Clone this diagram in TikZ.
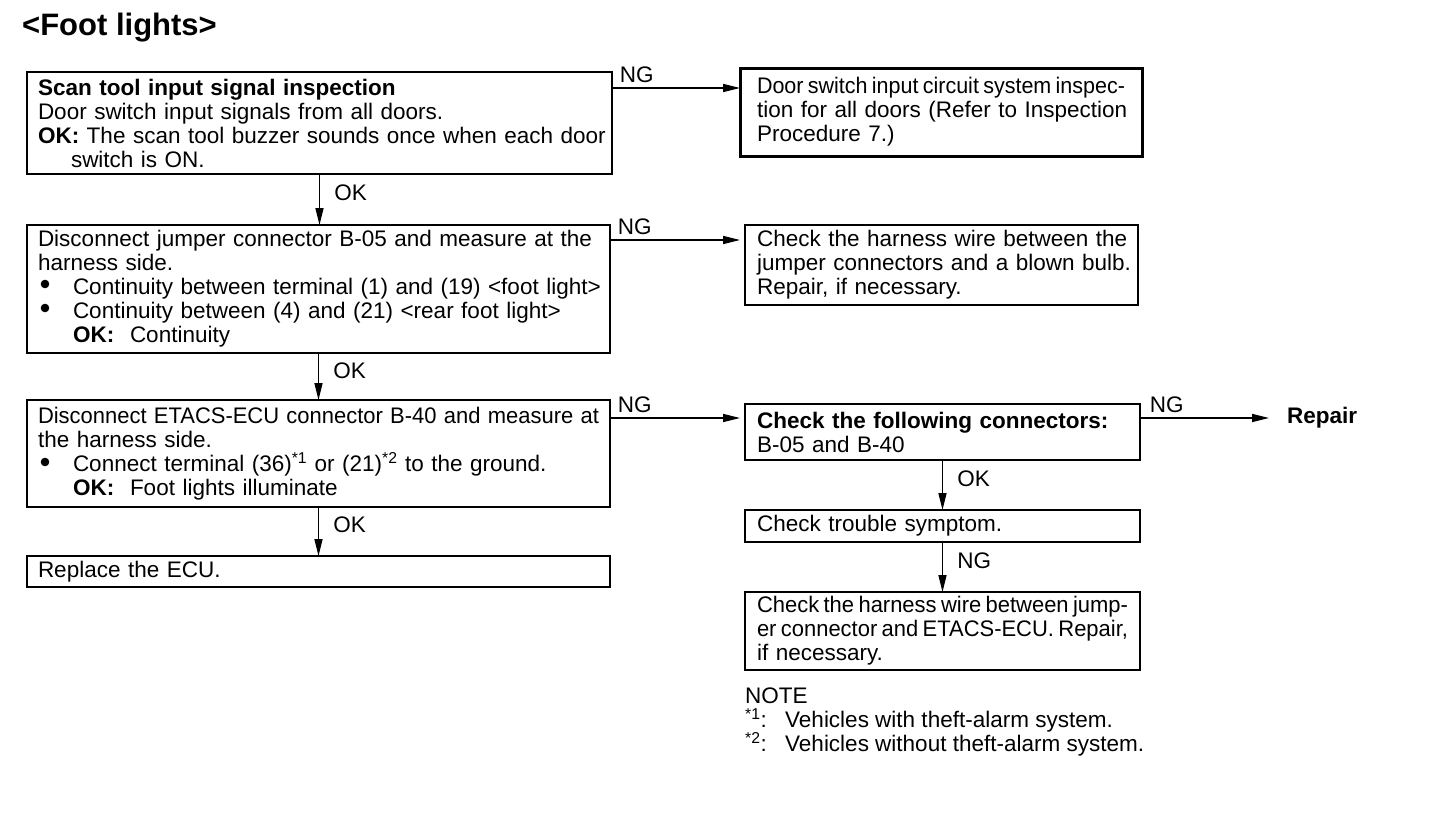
\documentclass[tikz,border=0pt]{standalone}
\usepackage{fontspec}
\setmainfont{Liberation Sans}
\usepackage{graphicx}
\usetikzlibrary{arrows.meta}
\newcommand\fsz{\fontsize{22.5}{24}\selectfont}
\newcommand\jl[1]{\makebox[\hsize][s]{#1}}
\newcommand\tl[1]{\resizebox{\hsize}{\height}{\spaceskip=4.5pt plus 1pt #1}}
\newcommand\fl[1]{\resizebox{\hsize}{\height}{#1}}
\newcommand\bul{\hspace*{35pt}}
\newcommand\okk{\makebox[57pt][l]{\textbf{OK:}}}
\tikzset{
  box/.style={draw, line width=1.6pt, rectangle, anchor=north west, outer sep=0pt,
    inner xsep=11pt, inner ysep=2pt, align=left, font=\fsz},
  arr/.style={line width=1.6pt, -{Triangle[length=17pt,width=8pt]}},
  lbl/.style={font=\fsz, inner sep=1pt},
  dot/.style={fill=black},
}
\begin{document}
\begin{tikzpicture}[x=1pt,y=-1pt]
\fill[white] (0,0) rectangle (1456,830);
\useasboundingbox (0,0) rectangle (1456,830);

\node[anchor=base west, inner sep=0, font=\fontsize{31}{33}\selectfont\bfseries] (title) at (22,35) {<Foot lights>};

\node[box, text width=563pt, minimum height=102pt] (b1) at (27,72) {%
\textbf{Scan tool input signal inspection}\\
Door switch input signals from all doors.\\
\jl{\textbf{OK:} The scan tool buzzer sounds once when each door}\\
\hspace*{33pt}switch is ON.};

\node[box, text width=561pt, minimum height=128pt] (b2) at (27,225) {%
\jl{Disconnect jumper connector B-05 and measure at the}\\
harness side.\\
\bul\makebox[\dimexpr\hsize-35pt\relax][s]{Continuity between terminal (1) and (19) <foot light>}\\
\bul Continuity between (4) and (21) <rear foot light>\\
\hspace*{35pt}\okk Continuity};

\node[box, text width=561pt, minimum height=107pt] (b3) at (27,400) {%
\fl{Disconnect ETACS-ECU connector B-40 and measure at}\\
the harness side.\\
\bul\makebox[\dimexpr\hsize-35pt\relax][s]{Connect terminal (36)\textsuperscript{*1} or (21)\textsuperscript{*2} to the ground.}\\
\hspace*{35pt}\okk Foot lights illuminate};

% bullets
\fill[dot] (45,284) circle (4.3pt);
\fill[dot] (45,308) circle (4.3pt);
\fill[dot] (45,462) circle (4.3pt);

\node[box, text width=561pt, minimum height=31pt] (b4) at (27,556) {Replace the ECU.};

\node[box, line width=3pt, inner xsep=17pt, text width=368pt, minimum height=88pt] (r1) at (740,68) {%
\tl{Door switch input circuit system inspec-}\\
\jl{tion for all doors (Refer to Inspection}\\
Procedure 7.)};

\node[box, inner xsep=12pt, text width=369pt, minimum height=80pt] (r2) at (745,225) {%
\jl{Check the harness wire between the}\\
\jl{jumper connectors and a blown bulb.}\\
Repair, if necessary.};

\node[box, inner xsep=12pt, text width=371pt, minimum height=56pt] (r3) at (745,404) {%
\textbf{Check the following connectors:}\\
B-05 and B-40};

\node[box, inner xsep=12pt, text width=371pt, minimum height=32pt] (r4) at (745,510) {Check trouble symptom.};

\node[box, inner xsep=12pt, text width=371pt, minimum height=78pt] (r5) at (745,592) {%
\tl{Check the harness wire between jump-}\\
\tl{er connector and ETACS-ECU. Repair,}\\
if necessary.};

\node[lbl, font=\fsz\bfseries, anchor=west, inner sep=0] (rep) at (1287,418) {Repair};

\node[lbl, anchor=base west, inner sep=0] (n0) at (745,703) {NOTE};
\node[lbl, anchor=base west, inner sep=0] (n1) at (745,727) {\makebox[40pt][l]{\textsuperscript{*1}:}Vehicles with theft-alarm system.};
\node[lbl, anchor=base west, inner sep=0] (n2) at (745,751) {\makebox[40pt][l]{\textsuperscript{*2}:}Vehicles without theft-alarm system.};

% NG arrows
\draw[arr] ([yshift=-16pt]b1.north east) -- ([yshift=-16pt]b1.north east -| r1.west)
  node[lbl, pos=0, anchor=south west, xshift=6pt, yshift=3pt] {NG};
\draw[arr, shorten >=5pt] ([yshift=-15pt]b2.north east) -- ([yshift=-15pt]b2.north east -| r2.west)
  node[lbl, pos=0, anchor=south west, xshift=6pt, yshift=3pt] {NG};
\draw[arr, shorten >=5pt] ([yshift=-18pt]b3.north east) -- ([yshift=-18pt]b3.north east -| r3.west)
  node[lbl, pos=0, anchor=south west, xshift=6pt, yshift=3pt] {NG};
\draw[arr, shorten >=18pt] ([yshift=-14pt]r3.north east) -- (rep.west)
  node[lbl, pos=0, anchor=south west, xshift=8pt, yshift=3pt] {NG};

% OK arrows
\draw[arr] (b1.south) -- (b1.south |- b2.north) node[lbl, pos=0.37, anchor=west, xshift=13pt] {OK};
\draw[arr] (b2.south) -- (b2.south |- b3.north) node[lbl, pos=0.37, anchor=west, xshift=13pt] {OK};
\draw[arr] (b3.south) -- (b3.south |- b4.north) node[lbl, pos=0.37, anchor=west, xshift=13pt] {OK};
\draw[arr] (r3.south) -- (r3.south |- r4.north) node[lbl, pos=0.37, anchor=west, xshift=13pt] {OK};
\draw[arr] (r4.south) -- (r4.south |- r5.north) node[lbl, pos=0.37, anchor=west, xshift=13pt] {NG};
\end{tikzpicture}
\end{document}
